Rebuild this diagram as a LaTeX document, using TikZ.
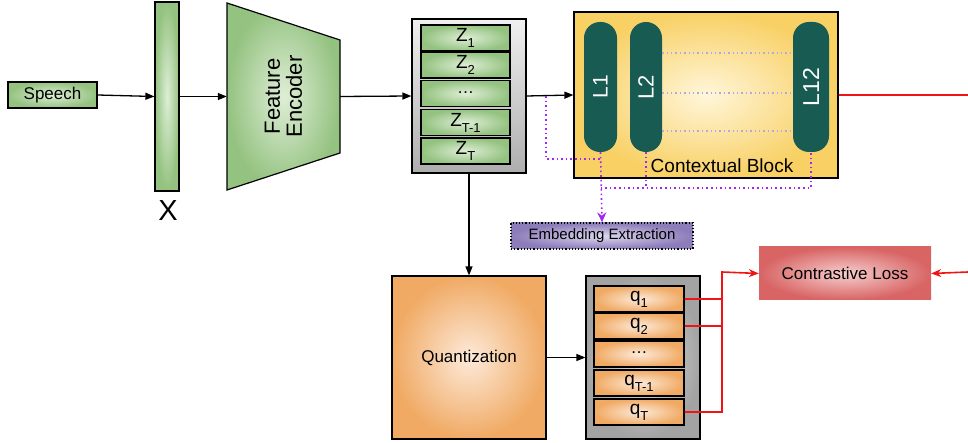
\documentclass[tikz,border=0pt]{standalone}
\usepackage{fontspec}
\setmainfont{Liberation Sans}
\usetikzlibrary{arrows.meta,positioning}
\definecolor{gOut}{RGB}{148,194,128}
\definecolor{gIn}{RGB}{222,238,214}
\definecolor{oOut}{RGB}{240,170,100}
\definecolor{oIn}{RGB}{253,234,218}
\definecolor{yOut}{RGB}{248,208,100}
\definecolor{yIn}{RGB}{255,246,218}
\definecolor{rOut}{RGB}{216,100,100}
\definecolor{rIn}{RGB}{247,206,206}
\definecolor{pOut}{RGB}{140,124,185}
\definecolor{pIn}{RGB}{222,216,238}
\definecolor{teal}{RGB}{24,91,82}
\definecolor{vio}{RGB}{160,40,240}
\definecolor{lav}{RGB}{176,168,224}
\definecolor{redl}{RGB}{240,20,20}
\newcommand{\fsz}[1]{\fontsize{#1}{#1}\selectfont}
\newcommand{\sbs}[1]{\raisebox{-6pt}{\fsz{13}#1}}
\begin{document}
\begin{tikzpicture}[x=1pt,y=-1pt,
  box/.style={draw=black,line width=1.2pt,inner sep=0pt,shading=radial,inner color=#1In,outer color=#1Out},
  gcell/.style={box=g,minimum width=89pt,minimum height=26pt,font=\fsz{19}},
  qcell/.style={box=o,minimum width=90pt,minimum height=26pt,font=\fsz{19}},
  pill/.style={fill=teal,draw=none,rounded corners=16pt,minimum height=130pt,inner sep=0pt,text=white,font=\fsz{21}},
  arr/.style={-{Triangle[length=9pt,width=7pt]},line width=1.3pt},
  redarr/.style={-{Stealth[length=10pt,width=8pt]},line width=1.6pt,draw=redl},
  redln/.style={draw=redl,line width=1.6pt},
  vdot/.style={draw=vio,line width=1.6pt,dash pattern=on 1.6pt off 3pt},
]
\useasboundingbox (0,0) rectangle (968,443);

% Speech and X bar
\node[box=g,minimum width=89pt,minimum height=26pt,font=\fsz{17}] (speech) at (52.5,95) {Speech};
\node[box=g,minimum width=24pt,minimum height=189pt] (bar) at (167,96.5) {};
\node[font=\fsz{29}] (xl) at (168,211) {X};

% Feature encoder trapezoid
\shade[inner color=gIn,outer color=gOut,draw=black,line width=1.2pt]
  (227,3) -- (340,40) -- (340,153) -- (227,190) -- cycle;
\node[minimum width=113pt,minimum height=187pt,inner sep=0pt] (fe) at (283.5,96.5) {};
\node[rotate=90,align=center,font=\fsz{22}] (fel) at (fe.center) {Feature\\Encoder};

% Z stack
\node[draw=black,line width=1.2pt,top color=white!94!black,bottom color=black!32,minimum width=114pt,minimum height=154pt] (zbox) at (469,96) {};
\node[gcell] (z1) at (465.5,38) {Z\sbs{1}};
\node[gcell] (z2) at (465.5,65) {Z\sbs{2}};
\node[gcell] (z3) at (465.5,93.5) {\raisebox{2pt}{\fsz{17}\dots}};
\node[gcell] (z4) at (465.5,122.5) {Z\sbs{T-1}};
\node[gcell] (z5) at (465.5,151) {Z\sbs{T}};

% Contextual block
\node[box=y,minimum width=264pt,minimum height=166pt] (cb) at (706,95) {};
\node[pill,minimum width=33pt] (l1) at (600.5,87) {\rotatebox{90}{L1}};
\node[pill,minimum width=32pt,font=\fsz{22}] (l2) at (646,87) {\rotatebox{90}{L2}};
\node[pill,minimum width=36pt,font=\fsz{23}] (l12) at (811,87) {\rotatebox{90}{L12}};
\node[font=\fsz{19}] (cbl) at (722,166) {Contextual Block};
\foreach \yy in {53,93,131}
  \draw[draw=lav,line width=1.4pt,dash pattern=on 1.4pt off 3pt] (l2.east |- 0,\yy) -- (l12.west |- 0,\yy);

% Embedding extraction
\node[draw=black,dash pattern=on 1.2pt off 2pt,line width=1.2pt,shading=radial,inner color=pIn,outer color=pOut,minimum width=182pt,minimum height=26pt,font=\fsz{15}] (emb) at (602,236) {Embedding Extraction};

% Quantization and q stack
\node[draw=black,line width=1.2pt,shading=radial,inner color=oIn,outer color=oOut,minimum width=154pt,minimum height=163pt,font=\fsz{17}] (quant) at (469,357.5) {Quantization};
\node[draw=black,line width=1.2pt,shading=radial,inner color=black!12,outer color=black!36,minimum width=114pt,minimum height=163pt] (qbox) at (643,357.5) {};
\node[qcell] (q1) at (639,299) {q\sbs{1}};
\node[qcell] (q2) at (639,326) {q\sbs{2}};
\node[qcell] (q3) at (639,354) {\raisebox{2pt}{\fsz{17}\dots}};
\node[qcell] (q4) at (639,383) {q\sbs{T-1}};
\node[qcell] (q5) at (639,412) {q\sbs{T}};

% Contrastive loss
\node[shading=radial,inner color=rIn,outer color=rOut,minimum width=172pt,minimum height=53pt,font=\fsz{17},inner sep=0pt] (cl) at (845,273.5) {Contrastive Loss};

% coordinates
\coordinate (rend1) at (968,95);
\coordinate (rend2) at (968,272);
\coordinate (bus) at (722,272);
\coordinate (pd) at (546,96);
\coordinate (pdy) at (546,159);
\coordinate (hy) at (0,188);

% black connectors
\draw[arr] (speech.east) -- (bar.west);
\draw[arr] (bar.east) -- (fe.west);
\draw[arr] (fe.east) -- (zbox.west);
\draw[arr] (zbox.east) -- (cb.west);
\draw[arr] (zbox.south) -- (quant.north);
\draw[arr] (quant.east) -- (qbox.west);

% red connectors
\draw[redln] (cb.east) -- (rend1);
\draw[redarr] (rend2) -- (cl.east);
\draw[redln] (q1.east) -- (q1.east -| bus);
\draw[redln] (q2.east) -- (q2.east -| bus);
\draw[redarr] (q5.east) -- (q5.east -| bus) -- (bus) -- (cl.west);

% violet dotted connectors
\draw[vdot] (pd) -- (pdy) -- (pdy -| l1.south);
\draw[vdot,-{Stealth[length=10pt,width=9pt]}] (l1.south) -- (emb.north);
\draw[vdot] (l1.south |- hy) -- (l12.south |- hy) -- (l12.south);
\draw[vdot] (l2.south) -- (l2.south |- hy);
\end{tikzpicture}
\end{document}
